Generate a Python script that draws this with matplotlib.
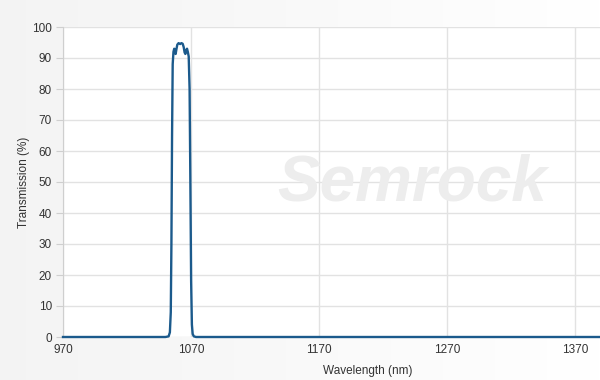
import numpy as np
import matplotlib.pyplot as plt

# Transmission spectrum
wavelength = [970, 1050.0, 1052.5, 1053.5, 1054.2, 1054.7, 1055.2, 1055.7, 1056.3,
              1056.9, 1057.4, 1058.0, 1058.6, 1059.3, 1060.3, 1061.5, 1062.5, 1063.5,
              1064.3, 1065.0, 1065.6, 1066.3, 1066.9, 1067.5, 1068.2, 1068.9, 1069.5,
              1070.1, 1070.7, 1071.3, 1072.2, 1074.0, 1460]
transmission = [0, 0, 0.2, 1.5, 8, 30, 65, 88, 92, 93, 92.2, 91.3, 92.8, 94.3, 94.8,
                94.5, 94.8, 94.6, 93.5, 91.8, 91.3, 92.6, 93.0, 92.0, 90.5, 80, 50,
                18, 4, 1, 0.2, 0, 0]

xticks = [970, 1070, 1170, 1270, 1370]
yticks = list(range(0, 101, 10))

plt.rcParams['font.family'] = ['Liberation Sans', 'DejaVu Sans']

fig = plt.figure(figsize=(6, 3.8), dpi=100)

# light background gradient behind everything
bg = fig.add_axes([0, 0, 1, 1], zorder=-5)
grad = np.linspace(0.955, 1.0, 256).reshape(1, -1)
bg.imshow(np.dstack([grad, grad, grad]), aspect='auto', extent=[0, 1, 0, 1])
bg.axis('off')

ax = fig.add_axes([63/600, 43/380, 537/600, 310/380])
ax.set_facecolor('white')
ax.plot(wavelength, transmission, color='#1b5a8c', lw=1.7, zorder=3, clip_on=False)

ax.set_xlim(970, 970 + 537/1.28)
ax.set_ylim(0, 100)
ax.set_xticks(xticks)
ax.set_yticks(yticks)
ax.grid(True, color='#e2e2e2', lw=1)
ax.set_axisbelow(True)
for s in ['top', 'right', 'bottom']:
    ax.spines[s].set_visible(False)
ax.spines['left'].set_color('#cfcfcf')
ax.tick_params(axis='y', length=5, color='#cfcfcf', labelsize=8.5, labelcolor='#333333', pad=3)
ax.tick_params(axis='x', length=0, labelsize=8.5, labelcolor='#333333', pad=5)

ax.set_ylabel('Transmission (%)', fontsize=8.5, color='#333333')
ax.yaxis.set_label_coords(-0.062, 0.5)
ax.set_xlabel('Wavelength (nm)', fontsize=8.5, color='#333333')
ax.xaxis.set_label_coords((368 - 63) / 537, -0.09)

# watermark
fig.text(412/600, 1 - 183/380, 'Semrock', fontsize=46, fontstyle='italic', fontweight='bold',
         color='#ededed', ha='center', va='center', zorder=1)

fig.savefig('out.png', dpi=100)
